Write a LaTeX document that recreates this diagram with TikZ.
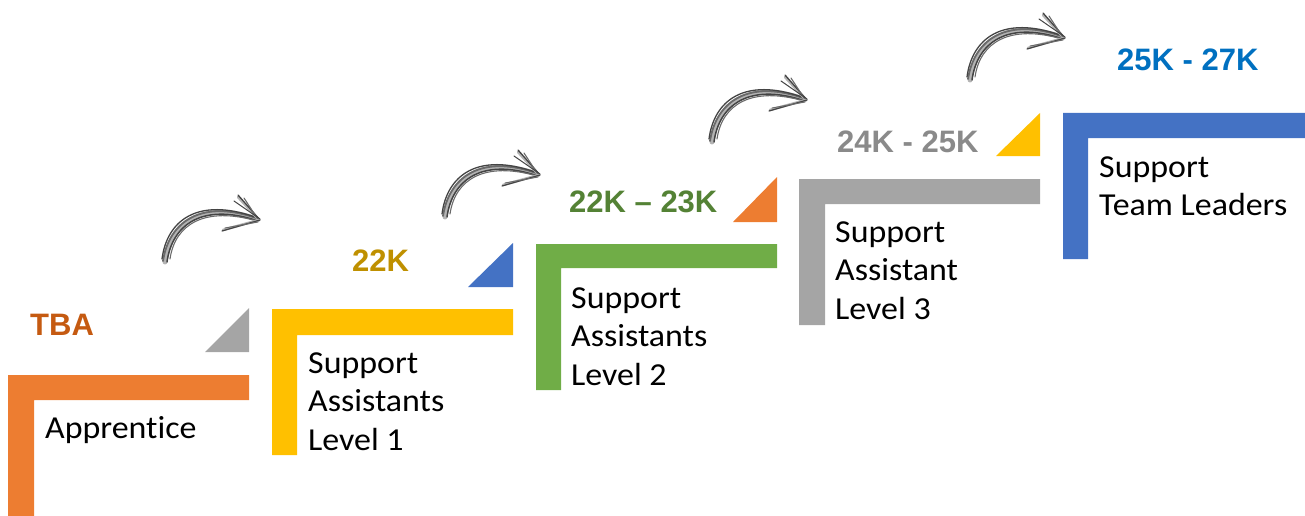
\documentclass[tikz,border=0pt]{standalone}
\usepackage{fontspec}
\setmainfont{Carlito}[Ligatures={NoCommon}, FakeStretch=1.06]
\newfontfamily\labelfont{Liberation Sans}
\definecolor{cOrange}{HTML}{ED7D31}
\definecolor{cYellow}{HTML}{FFC000}
\definecolor{cGreen}{HTML}{70AD47}
\definecolor{cGray}{HTML}{A5A5A5}
\definecolor{cBlue}{HTML}{4472C4}
\definecolor{tOrange}{HTML}{C55A11}
\definecolor{tGold}{HTML}{BF9000}
\definecolor{tGreen}{HTML}{548235}
\definecolor{tGray}{HTML}{8A8A8A}
\definecolor{tBlue}{HTML}{0070C0}
\definecolor{sk1}{HTML}{444444}
\definecolor{sk2}{HTML}{6A6A6A}
\definecolor{sk3}{HTML}{B4B4B4}
\tikzset{
  steptext/.style={anchor=base west, inner sep=0pt, align=left,
    font=\fontsize{32}{38.5}\selectfont, text=black},
  salary/.style={anchor=base west, inner sep=0pt,
    font=\labelfont\bfseries\fontsize{31}{36}\selectfont},
  sketch/.style={line cap=round, line join=round},
  pics/sketcharrow/.style={code={
    \draw[sketch, sk3, line width=5pt] (0,0) .. controls (5,-38) and (35,-62) .. (92,-43);
    \draw[sketch, sk2, line width=1.8pt] (-2,-1) .. controls (4,-40) and (36,-64) .. (94,-43);
    \draw[sketch, sk1, line width=1.5pt] (2,0) .. controls (7,-37) and (37,-60) .. (93,-41);
    \draw[sketch, sk2, line width=1.1pt] (5,-3) .. controls (10,-38) and (40,-56) .. (92,-41);
    \draw[sketch, sk1, line width=1.3pt] (-3,-3) .. controls (2,-42) and (33,-65) .. (90,-45);
    \draw[sketch, sk3, line width=2.6pt] (94,-42) -- (73,-65);
    \draw[sketch, sk1, line width=1.3pt] (95,-42) -- (73,-67);
    \draw[sketch, sk2, line width=1.1pt] (94,-41) -- (79,-64);
    \draw[sketch, sk1, line width=1.0pt] (95,-43) -- (69,-61);
    \draw[sketch, sk3, line width=2.6pt] (94,-42) -- (58,-32);
    \draw[sketch, sk1, line width=1.2pt] (95,-42) -- (57,-31);
    \draw[sketch, sk2, line width=1.0pt] (93,-40) -- (60,-34);
  }}
}
\begin{document}
\begin{tikzpicture}[x=1pt,y=-1pt]
\useasboundingbox (0,0) rectangle (1305,516);
% L shapes
\fill[cOrange] (8,375) -- (249,375) -- (249,400) -- (34,400) -- (34,516) -- (8,516) -- cycle;
\fill[cYellow] (272,309) -- (513,309) -- (513,335) -- (297,335) -- (297,455) -- (272,455) -- cycle;
\fill[cGreen] (536,244) -- (777,244) -- (777,268) -- (561,268) -- (561,390) -- (536,390) -- cycle;
\fill[cGray] (799,179) -- (1040,179) -- (1040,204) -- (825,204) -- (825,325) -- (799,325) -- cycle;
\fill[cBlue] (1063,113) -- (1305,113) -- (1305,138) -- (1088,138) -- (1088,259) -- (1063,259) -- cycle;
% triangles
\fill[cGray] (205,352) -- (249,352) -- (249,308) -- cycle;
\fill[cBlue] (468,287) -- (513,287) -- (513,243) -- cycle;
\fill[cOrange] (733,222) -- (777,222) -- (777,177) -- cycle;
\fill[cYellow] (996,156) -- (1040,156) -- (1040,113) -- cycle;
% sketch arrows
\pic at (165,262) {sketcharrow};
\pic at (445,217) {sketcharrow};
\pic at (712,142) {sketcharrow};
\pic at (970,80) {sketcharrow};
% step texts (base = last line's baseline)
\node[steptext] (apprentice) at (45,438) {Apprentice};
\node[steptext] (level1) at (308,450) {Support\\Assistants\\Level 1};
\node[steptext] (level2) at (571,385) {Support\\Assistants\\Level 2};
\node[steptext] (level3) at (835,319) {Support\\Assistant\\Level 3};
\node[steptext] (leaders) at (1099,215.5) {Support\\Team Leaders};
% salaries
\node[salary, text=tOrange] (tba) at (30,335) {TBA};
\node[salary, text=tGold] (s22) at (352,271) {22K};
\node[salary, text=tGreen] (s2223) at (569,212) {22K – 23K};
\node[salary, text=tGray] (s2425) at (837,152) {24K - 25K};
\node[salary, text=tBlue] (s2527) at (1117,71) {25K - 27K};
\end{tikzpicture}
\end{document}
